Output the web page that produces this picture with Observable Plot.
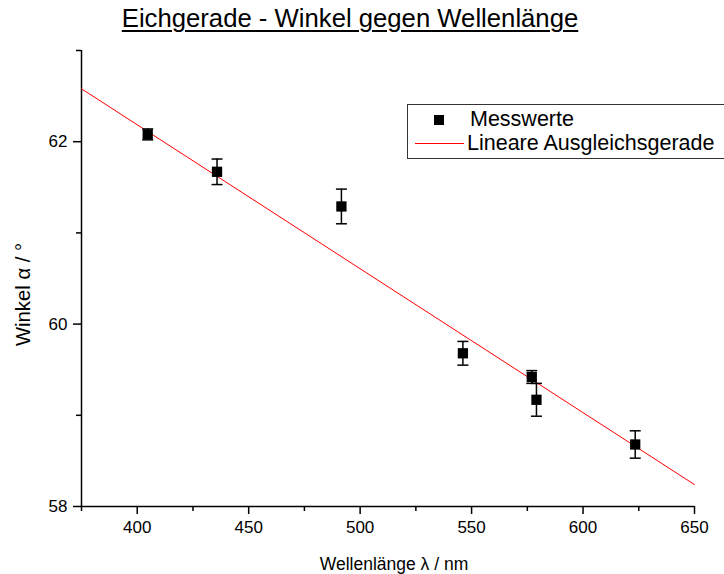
<!DOCTYPE html>
<html>
<head>
<meta charset="utf-8">
<script src="https://cdn.jsdelivr.net/npm/d3@7"></script>
<script src="https://cdn.jsdelivr.net/npm/@observablehq/plot@0.6"></script>
<style>
  html, body { margin: 0; padding: 0; background: #fff; }
  #wrap { position: relative; width: 724px; height: 574px; font-family: "Liberation Sans", Arial, sans-serif; }
  #title { position: absolute; top: 4px; left: 0; width: 700px; text-align: center; font-size: 25.7px; text-decoration: underline; text-decoration-thickness: 2px; text-underline-offset: 3px; color: #000; white-space: nowrap; }
  #legend { position: absolute; left: 407px; top: 104px; width: 318px; height: 55px; border: 1px solid #333; box-sizing: border-box; font-size: 21.5px; color: #000; }
  .sym { position: absolute; }
  .lab { position: absolute; line-height: 1; white-space: nowrap; }
</style>
</head>
<body>
<div id="wrap">
  <div id="title">Eichgerade - Winkel gegen Wellenlänge</div>
  <div id="legend">
    <div class="sym" style="left:26px; top:10px; width:10px; height:10px; background:#000;"></div>
    <div class="lab" style="left:62px; top:4px;">Messwerte</div>
    <div class="sym" style="left:7px; top:38px; width:49px; height:1px; background:#ff0000;"></div>
    <div class="lab" style="left:59px; top:28px;">Lineare Ausgleichsgerade</div>
  </div>
</div>
<script>
// Measured points (wavelength in nm, angle in degrees, error in degrees)
const wavelength = [404.7, 435.8, 491.6, 546.1, 577.0, 579.1, 623.4];
const angle      = [62.08, 61.67, 61.29, 59.68, 59.42, 59.17, 58.68];
const angleErr   = [0.06, 0.14, 0.19, 0.13, 0.07, 0.18, 0.15];

// Fitted line endpoints
const fitX = [375, 650];
const fitY = [62.58, 58.24];

// Ticks
const xMajor = [400, 450, 500, 550, 600, 650];
const xMinor = [375, 425, 475, 525, 575, 625];
const yMajor = [58, 60, 62];
const yMinor = [59, 61, 63];

const points = wavelength.map((x, i) => ({x, y: angle[i], e: angleErr[i]}));
const fit = fitX.map((x, i) => ({x, y: fitY[i]}));

const capSymbol = {
  draw(ctx, size) {
    const w = Math.sqrt(size);
    ctx.moveTo(-w / 2, 0);
    ctx.lineTo(w / 2, 0);
  }
};

const chart = Plot.plot({
  width: 724,
  height: 574,
  marginTop: 50,
  marginBottom: 68,
  marginLeft: 81,
  marginRight: 30,
  style: {fontFamily: "'Liberation Sans', Arial, sans-serif", fontSize: "17px", color: "#000", background: "transparent"},
  x: {domain: [375, 650]},
  y: {domain: [58, 63]},
  marks: [
    Plot.axisX({ticks: xMajor, tickSize: 8, tickPadding: 6, label: null, fontSize: 17, strokeWidth: 1.5, tickFormat: d3.format("d")}),
    Plot.axisX({ticks: xMinor, tickSize: 5, text: null, label: null, strokeWidth: 1.5}),
    Plot.axisY({ticks: yMajor, tickSize: 8, tickPadding: 6, label: null, fontSize: 17, strokeWidth: 1.5, tickFormat: d3.format("d")}),
    Plot.axisY({ticks: yMinor, tickSize: 5, text: null, label: null, strokeWidth: 1.5}),
    Plot.ruleY([58], {stroke: "#000", strokeWidth: 1.5}),
    Plot.ruleX([375], {stroke: "#000", strokeWidth: 1.5}),
    Plot.line(fit, {x: "x", y: "y", stroke: "#ff0000", strokeWidth: 1}),
    Plot.ruleX(points, {x: "x", y1: d => d.y - d.e, y2: d => d.y + d.e, stroke: "#000", strokeWidth: 1.5}),
    Plot.dot(points, {x: "x", y: d => d.y - d.e, symbol: capSymbol, r: 6.2, stroke: "#000", strokeWidth: 1.5, fill: "none"}),
    Plot.dot(points, {x: "x", y: d => d.y + d.e, symbol: capSymbol, r: 6.2, stroke: "#000", strokeWidth: 1.5, fill: "none"}),
    Plot.dot(points, {x: "x", y: "y", symbol: "square", r: 5.8, fill: "#000", stroke: "none"}),
    Plot.text(["Wellenlänge λ / nm"], {frameAnchor: "bottom", dy: 63, dx: 6, fontSize: 17.5, fill: "#000"}),
    Plot.text(["Winkel α / °"], {frameAnchor: "left", textAnchor: "middle", rotate: -90, dx: -58, dy: 16, fontSize: 20.3, fill: "#000"})
  ]
});
document.getElementById("wrap").prepend(chart);
chart.style.position = "absolute";
chart.style.left = "0";
chart.style.top = "0";
</script>
</body>
</html>
